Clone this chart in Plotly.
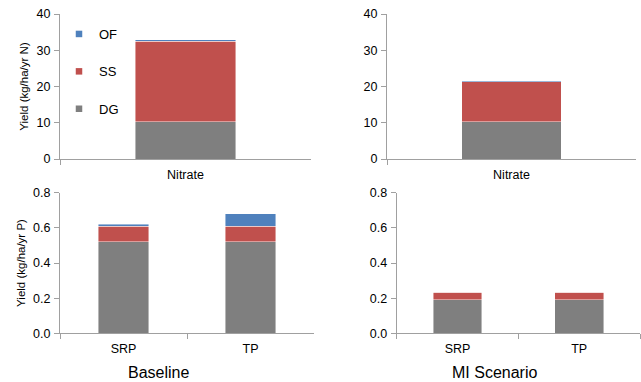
import plotly.graph_objects as go

# ---- data ----
components = ["DG", "SS", "OF"]
colors = {"DG": "#7F7F7F", "SS": "#C0504D", "OF": "#4F81BD"}

nitrate_cat = ["Nitrate"]
nitrate_baseline = {"DG": [10.3], "SS": [22.2], "OF": [0.4]}
nitrate_mi = {"DG": [10.3], "SS": [11.0], "OF": [0.3]}

phos_cat = ["SRP", "TP"]
phos_baseline = {"DG": [0.52, 0.52], "SS": [0.09, 0.09], "OF": [0.01, 0.07]}
phos_mi = {"DG": [0.19, 0.19], "SS": [0.045, 0.045], "OF": [0.0, 0.0]}

W, H = 641, 382
FONT = "Liberation Sans, Arial, sans-serif"
AXC = "#A0A0A0"

fig = go.Figure()

panels = [
    ("x", "y", nitrate_cat, nitrate_baseline),
    ("x2", "y2", nitrate_cat, nitrate_mi),
    ("x3", "y3", phos_cat, phos_baseline),
    ("x4", "y4", phos_cat, phos_mi),
]
for xa, ya, cats, vals in panels:
    for comp in components:
        fig.add_trace(go.Bar(
            x=cats, y=vals[comp], xaxis=xa, yaxis=ya, width=0.4,
            marker=dict(color=colors[comp], line=dict(color="rgba(255,255,255,0.55)", width=0.8)),
            name=comp, showlegend=False, hoverinfo="x+y+name",
        ))

# legend entries (small square markers), OF on top
for comp in ["OF", "SS", "DG"]:
    fig.add_trace(go.Scatter(
        x=[None], y=[None], mode="markers", name=comp, legendgroup=comp,
        marker=dict(symbol="square", size=6.5, color=colors[comp]),
        xaxis="x", yaxis="y", showlegend=True,
    ))

def px_x(p):
    return p / W

def px_y(p):
    return 1 - p / H

xcommon = dict(type="category", showline=True, linecolor=AXC, linewidth=1,
               ticks="outside", tickson="boundaries", ticklen=5, tickcolor=AXC,
               showgrid=False, zeroline=False, automargin=False,
               tickfont=dict(family=FONT, size=12.5, color="#000"),
               ticklabelstandoff=4)
ycommon = dict(showline=True, linecolor=AXC, linewidth=1, ticks="outside",
               ticklen=5, tickcolor=AXC, showgrid=False, zeroline=False, automargin=False,
               tickfont=dict(family=FONT, size=12.5, color="#000"),
               ticklabelstandoff=1)

top_y = [px_y(159), px_y(14)]
bot_y = [px_y(333.3), px_y(192.7)]

fig.update_layout(
    width=W, height=H, margin=dict(l=0, r=0, t=0, b=0, pad=0), autosize=False,
    paper_bgcolor="white", plot_bgcolor="white",
    barmode="stack", bargap=0.6,
    font=dict(family=FONT, color="#000"),
    xaxis=dict(**xcommon, domain=[px_x(60), px_x(311)], range=[-0.5, 0.5], anchor="y"),
    yaxis=dict(**ycommon, domain=top_y, range=[0, 40], dtick=10, anchor="x",
               title=dict(text="Yield (kg/ha/yr N)", standoff=5,
                          font=dict(family=FONT, size=11.5, color="#000"))),
    xaxis2=dict(**xcommon, domain=[px_x(387), px_x(636)], range=[-0.5, 0.5], anchor="y2"),
    yaxis2=dict(**ycommon, domain=top_y, range=[0, 40], dtick=10, anchor="x2"),
    xaxis3=dict(**xcommon, domain=[px_x(60), px_x(314)], range=[-0.5, 1.5], anchor="y3"),
    yaxis3=dict(**ycommon, domain=bot_y, range=[0, 0.8], dtick=0.2, tickformat=".1f", anchor="x3",
                title=dict(text="Yield (kg/ha/yr P)", standoff=5,
                           font=dict(family=FONT, size=11.5, color="#000"))),
    xaxis4=dict(**xcommon, domain=[px_x(396.7), px_x(640)], range=[-0.5, 1.5], anchor="y4"),
    yaxis4=dict(**ycommon, domain=bot_y, range=[0, 0.8], dtick=0.2, tickformat=".1f", anchor="x4"),
    legend=dict(x=px_x(59), y=px_y(19), xanchor="left", yanchor="top",
                bgcolor="rgba(0,0,0,0)", traceorder="grouped", tracegroupgap=17.5,
                font=dict(family=FONT, size=13, color="#000"), itemwidth=30),
    annotations=[
        dict(text="Baseline", x=px_x(158), y=px_y(372), xref="paper", yref="paper",
             xanchor="center", yanchor="middle",
             showarrow=False, font=dict(family=FONT, size=16, color="#000")),
        dict(text="MI Scenario", x=px_x(495), y=px_y(372), xref="paper", yref="paper",
             xanchor="center", yanchor="middle",
             showarrow=False, font=dict(family=FONT, size=16, color="#000")),
    ],
)

fig.write_html(
    "out.html",
    config={"displayModeBar": False},
    post_script="document.body.style.margin='0';document.body.style.padding='0';"
                "document.documentElement.style.overflow='hidden';",
)
